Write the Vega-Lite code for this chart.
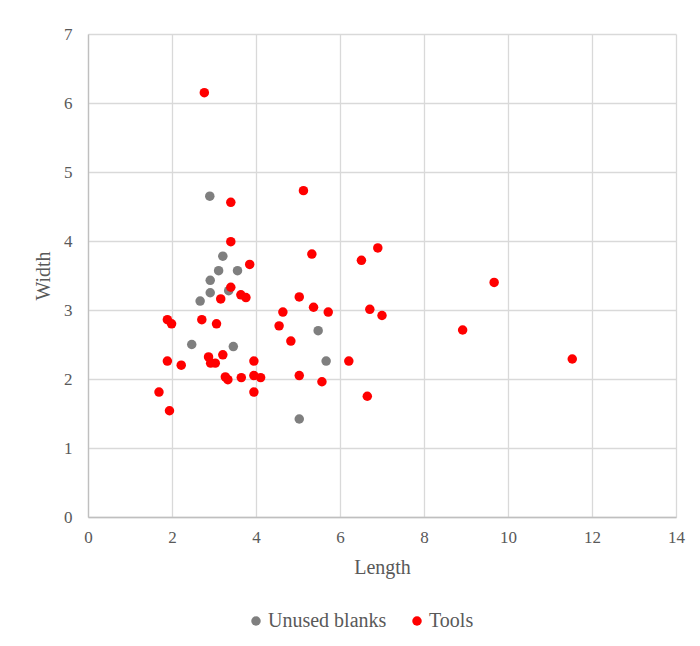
{
  "$schema": "https://vega.github.io/schema/vega-lite/v6.json",
  "autosize": "none",
  "width": 588,
  "height": 483,
  "padding": {"left": 88, "top": 34, "right": 24, "bottom": 129},
  "background": "white",
  "config": {
    "font": "Liberation Serif",
    "view": {"stroke": null},
    "axis": {
      "labelFont": "Liberation Serif",
      "titleFont": "Liberation Serif",
      "labelColor": "#595959",
      "titleColor": "#595959",
      "labelFontSize": 17,
      "titleFontSize": 20,
      "titleFontWeight": "normal",
      "gridColor": "#d9d9d9",
      "gridWidth": 1.3,
      "domainColor": "#bfbfbf",
      "domainWidth": 1.3,
      "ticks": false,
      "labelFlush": false
    },
    "legend": {
      "labelFont": "Liberation Serif",
      "labelColor": "#595959",
      "labelFontSize": 20
    }
  },
  "data": {
    "values": [
      {"Length": 2.90, "Width": 4.65, "Type": "Unused blanks"},
      {"Length": 3.21, "Width": 3.78, "Type": "Unused blanks"},
      {"Length": 3.11, "Width": 3.57, "Type": "Unused blanks"},
      {"Length": 3.56, "Width": 3.57, "Type": "Unused blanks"},
      {"Length": 2.91, "Width": 3.43, "Type": "Unused blanks"},
      {"Length": 2.91, "Width": 3.25, "Type": "Unused blanks"},
      {"Length": 3.35, "Width": 3.28, "Type": "Unused blanks"},
      {"Length": 2.67, "Width": 3.13, "Type": "Unused blanks"},
      {"Length": 2.47, "Width": 2.50, "Type": "Unused blanks"},
      {"Length": 3.46, "Width": 2.47, "Type": "Unused blanks"},
      {"Length": 5.48, "Width": 2.70, "Type": "Unused blanks"},
      {"Length": 5.67, "Width": 2.26, "Type": "Unused blanks"},
      {"Length": 5.03, "Width": 1.42, "Type": "Unused blanks"},
      {"Length": 2.77, "Width": 6.15, "Type": "Tools"},
      {"Length": 3.40, "Width": 4.56, "Type": "Tools"},
      {"Length": 5.13, "Width": 4.73, "Type": "Tools"},
      {"Length": 3.40, "Width": 3.99, "Type": "Tools"},
      {"Length": 3.85, "Width": 3.66, "Type": "Tools"},
      {"Length": 5.33, "Width": 3.81, "Type": "Tools"},
      {"Length": 6.51, "Width": 3.72, "Type": "Tools"},
      {"Length": 6.90, "Width": 3.90, "Type": "Tools"},
      {"Length": 9.67, "Width": 3.40, "Type": "Tools"},
      {"Length": 3.40, "Width": 3.33, "Type": "Tools"},
      {"Length": 3.64, "Width": 3.22, "Type": "Tools"},
      {"Length": 3.76, "Width": 3.18, "Type": "Tools"},
      {"Length": 3.16, "Width": 3.16, "Type": "Tools"},
      {"Length": 5.03, "Width": 3.19, "Type": "Tools"},
      {"Length": 5.37, "Width": 3.04, "Type": "Tools"},
      {"Length": 4.64, "Width": 2.97, "Type": "Tools"},
      {"Length": 5.72, "Width": 2.97, "Type": "Tools"},
      {"Length": 6.71, "Width": 3.01, "Type": "Tools"},
      {"Length": 7.00, "Width": 2.92, "Type": "Tools"},
      {"Length": 1.89, "Width": 2.86, "Type": "Tools"},
      {"Length": 1.99, "Width": 2.80, "Type": "Tools"},
      {"Length": 2.71, "Width": 2.86, "Type": "Tools"},
      {"Length": 3.06, "Width": 2.80, "Type": "Tools"},
      {"Length": 4.55, "Width": 2.77, "Type": "Tools"},
      {"Length": 8.92, "Width": 2.71, "Type": "Tools"},
      {"Length": 4.83, "Width": 2.55, "Type": "Tools"},
      {"Length": 2.87, "Width": 2.32, "Type": "Tools"},
      {"Length": 3.21, "Width": 2.35, "Type": "Tools"},
      {"Length": 2.92, "Width": 2.23, "Type": "Tools"},
      {"Length": 3.03, "Width": 2.23, "Type": "Tools"},
      {"Length": 1.89, "Width": 2.26, "Type": "Tools"},
      {"Length": 2.22, "Width": 2.20, "Type": "Tools"},
      {"Length": 3.95, "Width": 2.26, "Type": "Tools"},
      {"Length": 6.21, "Width": 2.26, "Type": "Tools"},
      {"Length": 11.53, "Width": 2.29, "Type": "Tools"},
      {"Length": 3.27, "Width": 2.03, "Type": "Tools"},
      {"Length": 3.33, "Width": 1.99, "Type": "Tools"},
      {"Length": 3.65, "Width": 2.02, "Type": "Tools"},
      {"Length": 3.95, "Width": 2.05, "Type": "Tools"},
      {"Length": 4.11, "Width": 2.02, "Type": "Tools"},
      {"Length": 5.03, "Width": 2.05, "Type": "Tools"},
      {"Length": 5.57, "Width": 1.96, "Type": "Tools"},
      {"Length": 1.69, "Width": 1.81, "Type": "Tools"},
      {"Length": 3.95, "Width": 1.81, "Type": "Tools"},
      {"Length": 6.65, "Width": 1.75, "Type": "Tools"},
      {"Length": 1.94, "Width": 1.54, "Type": "Tools"}
    ]
  },
  "mark": {"type": "circle", "size": 90, "opacity": 1},
  "encoding": {
    "x": {
      "field": "Length",
      "type": "quantitative",
      "scale": {"domain": [0, 14], "nice": false, "zero": true},
      "axis": {"values": [0, 2, 4, 6, 8, 10, 12, 14], "labelPadding": 12, "titlePadding": 12, "title": "Length"}
    },
    "y": {
      "field": "Width",
      "type": "quantitative",
      "scale": {"domain": [0, 7], "nice": false},
      "axis": {"values": [0, 1, 2, 3, 4, 5, 6, 7], "labelPadding": 16, "titlePadding": 10, "title": "Width"}
    },
    "color": {
      "field": "Type",
      "type": "nominal",
      "scale": {"domain": ["Unused blanks", "Tools"], "range": ["#7f7f7f", "#ff0000"]},
      "legend": {
        "title": null,
        "orient": "none",
        "direction": "horizontal",
        "legendX": 158,
        "legendY": 577,
        "symbolType": "circle",
        "symbolSize": 90,
        "symbolOpacity": 1,
        "symbolStrokeWidth": 0,
        "labelOffset": 2,
        "columnPadding": 20
      }
    }
  }
}
